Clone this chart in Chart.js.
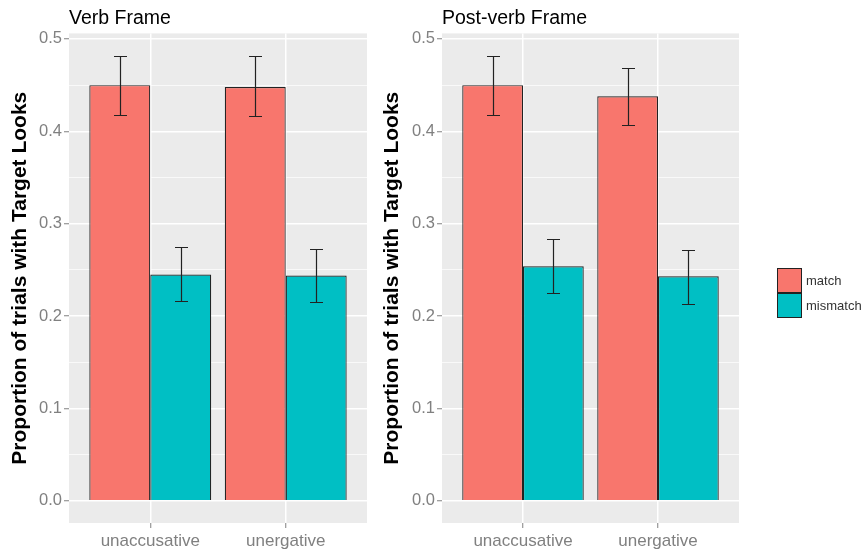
<!DOCTYPE html>
<html>
<head>
<meta charset="utf-8">
<script src="https://cdn.jsdelivr.net/npm/chart.js@4"></script>
<style>
  body { margin: 0; background: #fff; width: 866px; height: 551px; position: relative; overflow: hidden; font-family: "Liberation Sans", Arial, sans-serif; }
  canvas { position: absolute; top: 0; }
  #legend { position: absolute; left: 777px; top: 268px; }
  .item { display: flex; align-items: center; height: 25px; }
  .swatch { width: 25px; height: 25px; box-sizing: border-box; border: 1px solid #222; }
  .item span { margin-left: 4px; font-size: 13px; color: #333; }
</style>
</head>
<body>
<canvas id="verbChart" width="370" height="551" style="left:0"></canvas>
<canvas id="postChart" width="494" height="551" style="left:372px"></canvas>
<div id="legend"></div>
<script>
const categories = ["unaccusative", "unergative"];
const seriesNames = ["match", "mismatch"];
const seriesColors = ["#F8766D", "#00BFC4"];

// Verb Frame panel
const verbMatch = [0.450, 0.448];
const verbMatchLo = [0.418, 0.417];
const verbMatchHi = [0.481, 0.481];
const verbMismatch = [0.245, 0.244];
const verbMismatchLo = [0.216, 0.215];
const verbMismatchHi = [0.275, 0.273];

// Post-verb Frame panel
const postMatch = [0.450, 0.438];
const postMatchLo = [0.418, 0.407];
const postMatchHi = [0.481, 0.469];
const postMismatch = [0.254, 0.243];
const postMismatchLo = [0.225, 0.213];
const postMismatchHi = [0.283, 0.272];

const yMajor = [0, 0.1, 0.2, 0.3, 0.4, 0.5];
const yMinor = [0.05, 0.15, 0.25, 0.35, 0.45];

const FONT = "'Liberation Sans', Arial, sans-serif";
const isMajor = v => yMajor.some(m => Math.abs(m - v) < 1e-9);

const panelBg = {
    id: "panelBg",
    beforeDraw(chart) {
        const a = chart.chartArea, ctx = chart.ctx;
        ctx.save();
        ctx.fillStyle = "#EBEBEB";
        ctx.fillRect(a.left, a.top, a.right - a.left, a.bottom - a.top);
        ctx.restore();
    }
};

const errorBars = {
    id: "errorBars",
    afterDatasetsDraw(chart) {
        const ctx = chart.ctx, y = chart.scales.y;
        ctx.save();
        ctx.strokeStyle = "#222";
        ctx.lineWidth = 1.2;
        chart.data.datasets.forEach((ds, d) => {
            chart.getDatasetMeta(d).data.forEach((bar, j) => {
                const top = Math.round(y.getPixelForValue(ds.hi[j])) + 0.5;
                const bot = Math.round(y.getPixelForValue(ds.lo[j])) + 0.5;
                const x = Math.round(bar.x) + 0.5;
                ctx.beginPath();
                ctx.moveTo(x, top); ctx.lineTo(x, bot);
                ctx.moveTo(x - 6.5, top); ctx.lineTo(x + 6.5, top);
                ctx.moveTo(x - 6.5, bot); ctx.lineTo(x + 6.5, bot);
                ctx.stroke();
            });
        });
        ctx.restore();
    }
};

function makePanel(id, title, match, matchLo, matchHi, mismatch, mismatchLo, mismatchHi, axisWidth, padRight) {
    const vals = [match, mismatch], los = [matchLo, mismatchLo], his = [matchHi, mismatchHi];
    new Chart(document.getElementById(id), {
        type: "bar",
        data: {
            datasets: seriesNames.map((name, s) => ({
                label: name,
                data: categories.map((c, i) => ({ x: i + 1, y: vals[s][i] })),
                lo: los[s],
                hi: his[s],
                backgroundColor: seriesColors[s],
                borderColor: "#222",
                borderWidth: 1.2,
                categoryPercentage: 0.9,
                barPercentage: 1
            }))
        },
        options: {
            responsive: false,
            animation: false,
            layout: { padding: { left: 0, right: padRight, top: 0, bottom: 0 } },
            plugins: {
                legend: { display: false },
                tooltip: { enabled: false },
                title: {
                    display: true,
                    text: title,
                    align: "start",
                    fullSize: false,
                    color: "#000",
                    font: { family: FONT, size: 19.5, weight: "normal" },
                    padding: { top: 7, bottom: 3 }
                }
            },
            scales: {
                x: {
                    type: "linear",
                    min: 0.4,
                    max: 2.6,
                    offset: false,
                    afterBuildTicks: axis => { axis.ticks = categories.map((c, i) => ({ value: i + 1 })); },
                    afterFit: axis => { axis.height = 28; },
                    ticks: {
                        callback: v => categories[v - 1],
                        color: "#808080",
                        font: { family: FONT, size: 17 },
                        padding: 3,
                        maxRotation: 0
                    },
                    grid: { offset: false, color: "#fff", lineWidth: 1.5, tickLength: 5, tickColor: "#808080", tickWidth: 1 },
                    border: { display: false }
                },
                y: {
                    min: -0.024,
                    max: 0.506,
                    afterBuildTicks: axis => {
                        axis.ticks = yMajor.concat(yMinor).sort((a, b) => a - b).map(v => ({ value: v }));
                    },
                    afterFit: axis => { axis.width = axisWidth; },
                    ticks: {
                        callback: v => isMajor(v) ? v.toFixed(1) : "",
                        color: "#808080",
                        font: { family: FONT, size: 16.5 },
                        padding: 2
                    },
                    grid: {
                        color: "#fff",
                        lineWidth: c => isMajor(c.tick.value) ? 1.5 : 0.7,
                        tickLength: 5,
                        tickColor: c => isMajor(c.tick.value) ? "#808080" : "rgba(0,0,0,0)",
                        tickWidth: 1
                    },
                    border: { display: false },
                    title: {
                        display: true,
                        text: "Proportion of trials with Target Looks",
                        color: "#000",
                        font: { family: FONT, size: 21, weight: "bold" },
                        padding: { top: 8, bottom: 0 }
                    }
                }
            }
        },
        plugins: [panelBg, errorBars]
    });
}

makePanel("verbChart", "Verb Frame", verbMatch, verbMatchLo, verbMatchHi,
    verbMismatch, verbMismatchLo, verbMismatchHi, 69, 3);
makePanel("postChart", "Post-verb Frame", postMatch, postMatchLo, postMatchHi,
    postMismatch, postMismatchLo, postMismatchHi, 70, 127);

const legend = document.getElementById("legend");
seriesNames.forEach((name, s) => {
    const item = document.createElement("div");
    item.className = "item";
    const sw = document.createElement("div");
    sw.className = "swatch";
    sw.style.background = seriesColors[s];
    const label = document.createElement("span");
    label.textContent = name;
    item.appendChild(sw);
    item.appendChild(label);
    legend.appendChild(item);
});
</script>
</body>
</html>
